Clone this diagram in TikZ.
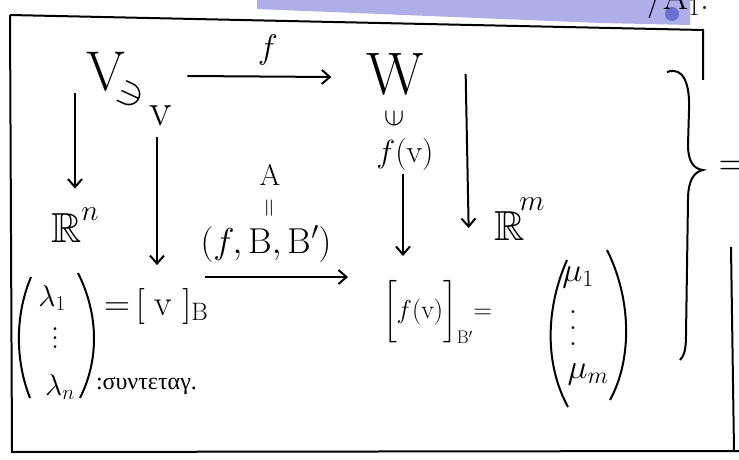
\RequirePackage{fix-cm}
\documentclass[tikz,border=0pt]{standalone}
\usepackage{amsmath,amssymb}
\usepackage{fontspec}
\newfontfamily\grk{Liberation Serif}
\usetikzlibrary{arrows.meta}
\definecolor{hl}{RGB}{160,160,228}
\definecolor{hld}{RGB}{110,110,210}

\begin{document}
\begin{tikzpicture}[x=1pt,y=-1pt,line width=2pt,
  sz/.style={inner sep=0pt,font=\fontsize{#1}{#1}\selectfont},
  dots/.style={inner sep=0pt,align=center,font=\fontsize{34}{#1}\selectfont},
  ar/.style={-{Straight Barb[length=8pt,width=14pt]}}]
\useasboundingbox (0,0) rectangle (739,460);
\clip (0,0) rectangle (739,460);
% highlighter stroke and the frame
\fill[hl,opacity=.85] (257,0) -- (690,0) -- (690,25) -- (600,23) -- (257,9) -- cycle;
\fill[hld] (672,14) circle (7);
\draw (10,15) -- (703,30) -- (703,80);
\draw (10,15) -- (12,452) -- (739,451);
\draw (731,247) -- (734,451);
\node[sz=36,anchor=base west] (top) at (646,10) {$/\mathrm{A}_1$:};
% top row
\node[sz=56] (V) at (106,72) {V};
\node[sz=40,rotate=-25] (ni) at (131,95) {$\ni$};
\node[sz=46] (v) at (161,116) {v};
\node[sz=60] (W) at (395,74) {W};
\node[sz=34] (f) at (268,50) {$f$};
\node[sz=30] (in) at (394,119) {\rotatebox{90}{$\in$}};
\node[sz=32] (fv) at (405,155) {$f(\mathrm{v})$};
\draw[ar] ([xshift=61pt,yshift=-4pt]V.east) -- ([xshift=-34pt,yshift=-3pt]W.west);
% down arrows
\node[sz=42,anchor=base west] (Rn) at (50,242) {$\mathbb{R}^{\raisebox{6pt}{$\scriptstyle n$}}$};
\node[sz=42,anchor=base west] (Rm) at (493,240) {$\mathbb{R}^{\!\raisebox{14pt}{$\scriptstyle m$}}$};
\draw[ar] ([xshift=-31pt]V.south) -- ++(0,96);
\draw[ar] ([xshift=-4pt,yshift=-10pt]v.south) -- ++(0,128);
\draw[ar] ([xshift=-2pt,yshift=-2pt]fv.south) -- ++(0,82);
\draw[ar] ([xshift=41pt]W.east) -- ++(3,154);
% matrix label
\node[sz=30] (A) at (270,175) {A};
\node[sz=26] (eq) at (271,208) {\rotatebox{90}{$=$}};
\node[sz=36] (fBB) at (266,244) {$(f,\mathrm{B},\mathrm{B}')$};
\draw[ar] ([xshift=-61pt,yshift=-14pt]fBB.south) -- ([xshift=82pt,yshift=-14pt]fBB.south);
% coordinates of v
\node[sz=30] (l1) at (52,298) {$\lambda_1$};
\node[dots=9] (ld) at (55,338) {.\\.\\.};
\node[sz=30] (ln) at (60,387) {$\lambda_n$};
\draw (31,277) .. controls (15,315) and (15,360) .. (30,398);
\draw (78,273) .. controls (99,315) and (99,360) .. (80,398);
\node[sz=36,anchor=west] (vB) at (103,306) {${=}\,[\;\mathrm{v}\;]_{\mathrm{B}}$};
\node[sz=24,anchor=west] (syn) at (95,386) {\grk :συντεταγ.};
% coordinates of f(v)
\node[sz=26,anchor=west] (fvB) at (382,312) {$\biggl[f(\mathrm{v})\biggr]_{\mathrm{B}'}{=}$};
\node[sz=34] (m1) at (578,277) {$\mu_1$};
\node[dots=16] (md) at (573,328) {.\\.\\.};
\node[sz=34] (mm) at (588,374) {$\mu_m$};
\draw (567,260) .. controls (545,310) and (545,365) .. (568,407);
\draw (607,250) .. controls (632,300) and (632,360) .. (610,400);
% brace
\draw (667,72) .. controls (684,66) and (690,85) .. (689,110) -- (688,145)
  .. controls (688,162) and (694,169) .. (703,170)
  .. controls (694,172) and (688,180) .. (688,200) -- (686,335)
  .. controls (686,350) and (684,356) .. (680,360);
\node[sz=40] (eqr) at (733,168) {$=$};
\end{tikzpicture}
\end{document}
